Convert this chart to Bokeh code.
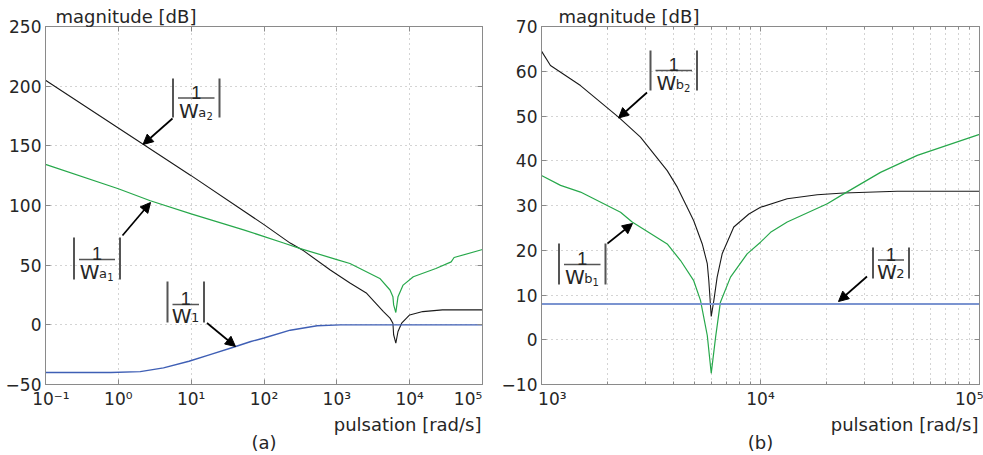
from bokeh.plotting import figure
from bokeh.layouts import row
from bokeh.models import (Range1d, FixedTicker, CustomJSTickFormatter, Label, Arrow,
                          NormalHead, LogAxis, LinearAxis, Title)
from bokeh.embed import file_html
from bokeh.resources import INLINE

# ---------------- panel (a) data ----------------
wa2_w = [0.1, 1, 10, 100, 229, 351, 813, 1514, 2570, 4365, 5370, 5888, 6026, 6457, 6918,
         7762, 10000, 15136, 28184, 100000]
wa2_db = [205, 165, 125, 84, 68.5, 62, 46, 35, 26.4, 11.1, 5.6, 1.4, -8.3, -15.3, -5.6,
          1.4, 8.3, 11.1, 12.5, 12.5]

wa1_w = [0.1, 1, 2.75, 10, 52.5, 186, 316, 1000, 1514, 3890, 5370, 5888, 6026, 6457, 6918,
         8128, 11220, 22909, 37154, 40738, 100000]
wa1_db = [134.5, 114, 104, 93, 79.6, 68.6, 63.9, 54.7, 51.4, 38.9, 29.2, 23.6, 16.7, 10.3,
          23.6, 33.3, 40.3, 47.2, 52.8, 56.4, 63.1]

w1_w = [0.1, 0.79, 2.0, 4.17, 9.33, 18.2, 38.0, 66.1, 100, 229, 537, 1122, 100000]
w1_db = [-40, -40, -39.2, -36.1, -30.5, -24.9, -18.8, -14, -11, -4.5, -0.8, 0, 0]

# ---------------- panel (b) data ----------------
wb2_w = [1000, 1099, 1507, 2254, 2831, 3750, 4169, 4624, 4955, 5420, 5715, 5808, 5957, 6124,
         6339, 6683, 7551, 8851, 10000, 13243, 18155, 23988, 42073, 100000]
wb2_db = [64.5, 61.3, 56.8, 49.7, 45.3, 37.8, 34.1, 29.6, 26.6, 21.4, 17.0, 13.2, 5.2, 8.8,
          14.0, 19.2, 25.2, 28.1, 29.6, 31.5, 32.4, 32.8, 33.2, 33.2]

wb1_w = [1000, 1222, 1507, 2296, 2594, 3750, 4315, 4955, 5321, 5715, 5957, 6237, 6561, 7295,
         8690, 10000, 11117, 13243, 20184, 23988, 35318, 52000, 100000]
wb1_db = [36.7, 34.5, 33.0, 28.5, 26.3, 21.4, 17.7, 13.2, 8.8, 0.95, -7.5, 0.6, 8.4, 14.0,
          19.2, 21.8, 24.0, 26.3, 30.4, 32.6, 37.4, 41.2, 45.9]

w2_w = [1000, 100000]
w2_db = [8, 8]

# ---------------- ticks ----------------
a_xticks = [0.1, 1, 10, 100, 1000, 10000, 100000]
a_yticks = [-50, 0, 50, 100, 150, 200, 250]
b_xticks = [1000, 10000, 100000]
b_xminor = [m * d for d in (1000, 10000) for m in range(2, 10)]
b_yticks = [-10, 0, 10, 20, 30, 40, 50, 60, 70]

FONT = "DejaVu Sans"
FONT1 = "Liberation Sans"
TXT = "#262626"
FRAME = "#8a8a8a"
GRID = "#a8a8a8"
BAR = "#555555"

EMPTY = CustomJSTickFormatter(code="return '';")
MINUS = "return (tick < 0 ? '\u2212' : '') + Math.abs(tick);"
POW10 = ("const s = {'-1': '⁻¹', '0': '⁰', '1': '¹', '2': '²', '3': '³', '4': '⁴', '5': '⁵'};"
         "const k = Math.round(Math.log10(tick));"
         "let t = '10' + s[String(k)];"
         "if (k == lo) { t = pre + t; }"
         "if (k == hi) { t = t + post; }"
         "return t;")

FIG_H = 455
TOP = 26
FRAME_H = 358


def make_fig(width, bl, br, xr, yr, xt, xm, yt, minor_grid, t_off, sub, sub_off,
             lo, hi, pre, post):
    p = figure(width=width, height=FIG_H, x_axis_type="log",
               x_range=Range1d(*xr), y_range=Range1d(*yr),
               output_backend="svg", toolbar_location=None,
               min_border_left=bl, min_border_right=br,
               min_border_top=TOP, min_border_bottom=FIG_H - TOP - FRAME_H,
               title="magnitude [dB]")
    p.title.align = "left"
    p.title.offset = t_off
    p.title.standoff = 0
    p.title.text_font = FONT
    p.title.text_font_size = "18px"
    p.title.text_font_style = "normal"
    p.title.text_color = TXT
    p.background_fill_color = "white"
    p.border_fill_color = "white"
    p.outline_line_color = FRAME
    xtick = FixedTicker(ticks=xt, minor_ticks=xm)
    ytick = FixedTicker(ticks=yt, minor_ticks=[])
    xa = p.xaxis[0]
    xa.ticker = xtick
    xa.formatter = CustomJSTickFormatter(args=dict(lo=lo, hi=hi, pre=pre, post=post),
                                         code=POW10)
    xa.major_label_text_font = FONT
    xa.major_label_text_font_size = "17px"
    xa.major_label_text_color = TXT
    xa.major_label_standoff = 4
    ya = p.yaxis[0]
    ya.ticker = ytick
    ya.formatter = CustomJSTickFormatter(code=MINUS)
    ya.major_label_text_font = FONT
    ya.major_label_text_font_size = "17px"
    ya.major_label_text_color = TXT
    ya.major_label_standoff = 4
    top = LogAxis(ticker=FixedTicker(ticks=xt, minor_ticks=xm), formatter=EMPTY,
                  major_label_text_font_size="0px", major_label_standoff=0)
    right = LinearAxis(ticker=FixedTicker(ticks=yt, minor_ticks=[]), formatter=EMPTY,
                       major_label_text_font_size="0px", major_label_standoff=0)
    p.add_layout(top, "above")
    p.add_layout(right, "right")
    for ax in (xa, ya, top, right):
        ax.axis_line_color = FRAME
        ax.major_tick_line_color = FRAME
        ax.minor_tick_line_color = FRAME
        ax.major_tick_in = 5
        ax.major_tick_out = 0
        ax.minor_tick_in = 3
        ax.minor_tick_out = 0
    p.xgrid.ticker = xtick
    p.ygrid.ticker = ytick
    for g in (p.xgrid, p.ygrid):
        g.grid_line_color = GRID
        g.grid_line_dash = "1 4"
        g.grid_line_width = 1
    if minor_grid:
        p.xgrid.minor_grid_line_color = GRID
        p.xgrid.minor_grid_line_dash = "1 4"
    p.add_layout(Title(text="pulsation [rad/s]", align="right", offset=1, standoff=0,
                       text_font=FONT, text_font_size="18px", text_font_style="normal",
                       text_color=TXT), "below")
    p.add_layout(Title(text=sub, align="center", offset=sub_off, standoff=-5,
                       vertical_align="top",
                       text_font=FONT, text_font_size="18px", text_font_style="normal",
                       text_color=TXT), "below")
    return p


FS = "\u2007"   # figure space
NB = "\u00a0"   # no-break space

# panel (a): x 0..498, frame 45..482 ; panel (b): x 498..983, frame 541..979
pa = make_fig(498, 45, 16, (0.1, 1e5), (-50, 250), a_xticks, [], a_yticks, False,
              10, "(a)", -19, -1, 5, FS, FS + NB)
pb = make_fig(485, 43, 4, (1e3, 1e5), (-10, 70), b_xticks, b_xminor, b_yticks, True,
              17, "(b)", -8, 3, 5, FS + FS, "")

# curves
pa.line(wa2_w, wa2_db, line_color="#1a1a1a", line_width=1.1)
pa.line(wa1_w, wa1_db, line_color="#27a84b", line_width=1.2)
pa.line(w1_w, w1_db, line_color="#3f5fb5", line_width=1.4)
pb.line(wb2_w, wb2_db, line_color="#1a1a1a", line_width=1.1)
pb.line(wb1_w, wb1_db, line_color="#27a84b", line_width=1.2)
pb.line(w2_w, w2_db, line_color="#7b94d0", line_width=2)


# pixel -> data helpers for annotation placement (inside the frames)
def conv_a(px, py):
    return 10 ** (-1 + (px - 45) / 437 * 6), 250 - (py - 26) / 358 * 300


def conv_b(px, py):
    return 10 ** (3 + (px - 541) / 438 * 2), 70 - (py - 26) / 358 * 80


def label(p, conv, px, py, text, size, align="left", font=FONT):
    x, y = conv(px, py)
    p.add_layout(Label(x=x, y=y, text=text, text_font=font, text_font_size=size,
                       text_color=TXT, text_align=align, text_baseline="alphabetic"))


def frac(p, conv, xl, xr, yt, yb, yline, yw, s1, s2, a0, a1):
    for bx in (xl, xr):
        x0, y0 = conv(bx, yt)
        x1, y1 = conv(bx, yb)
        p.segment(x0, y0, x1, y1, line_color=BAR, line_width=2)
    x0, y0 = conv(xl + 5, yline)
    x1, y1 = conv(xr - 5, yline)
    p.segment(x0, y0, x1, y1, line_color=BAR, line_width=1.5)
    xc = (xl + xr) / 2
    label(p, conv, xc, yline - 6, "1", "18px", align="center", font=FONT1)
    w_w = 19.8
    s1w = 8.3
    s2w = 6.4 if s2 else 0
    x_start = xc - (w_w + s1w + s2w) / 2
    yw = yw - 4
    label(p, conv, x_start, yw, "W", "20px")
    label(p, conv, x_start + w_w - 0.5, yw + 2, s1, "13px")
    if s2:
        label(p, conv, x_start + w_w + s1w - 0.5, yw + 5, s2, "10px")
    xs, ys = conv(*a0)
    xe, ye = conv(*a1)
    p.add_layout(Arrow(end=NormalHead(size=10, fill_color="black", line_color="black"),
                       x_start=xs, y_start=ys, x_end=xe, y_end=ye,
                       line_color="black", line_width=1.7))


frac(pa, conv_a, 172.5, 219, 78, 117, 97.5, 114, "a", "2", (172, 118), (142.5, 144))
frac(pa, conv_a, 73.5, 119.5, 237, 279, 259, 275, "a", "1", (122, 235), (150, 202))
frac(pa, conv_a, 167, 203.5, 281, 322, 304, 319, "1", None, (206.5, 322.5), (235, 346))
frac(pb, conv_b, 650, 696.5, 50, 90, 70, 86, "b", "2", (646.5, 92), (618, 117.5))
frac(pb, conv_b, 558.5, 605, 243, 284, 264, 280, "b", "1", (607, 243), (632, 223))
frac(pb, conv_b, 872.5, 908.5, 247, 278, 259.5, 275, "2", None, (866.5, 276), (838, 301))

layout = row(pa, pb)
open("out.html", "w").write(file_html(layout, INLINE))
